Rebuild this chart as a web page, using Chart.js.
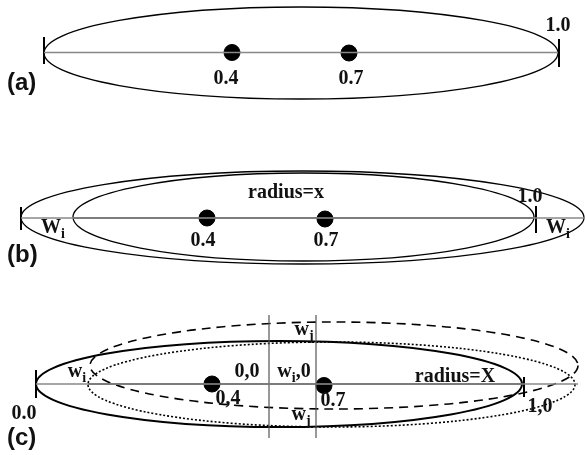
<!DOCTYPE html>
<html>
<head>
<meta charset="utf-8">
<script src="https://cdn.jsdelivr.net/npm/chart.js@4.4.0/dist/chart.umd.min.js"></script>
<style>
  html, body { margin: 0; padding: 0; background: #fff; }
  #wrap { width: 585px; height: 455px; }
</style>
</head>
<body>
<div id="wrap"><canvas id="chart"></canvas></div>
<script>
// diagram space is 0..585 across, 0..455 down

// dots at 0.4 and 0.7 in each panel
const dotsA = [{ x: 232, y: 52.5 }, { x: 349, y: 53 }]
const dotsB = [{ x: 207, y: 218 }, { x: 325, y: 219 }]
const dotsC = [{ x: 212, y: 384 }, { x: 324, y: 385.5 }]

// segments: x1, y1, x2, y2
const axisLines = [[44, 52.5, 558, 52.5], [21, 218, 585, 218], [36, 384, 578, 384]]
const innerAxisLines = [[73, 218, 534, 218], [88, 384, 522, 384]]
const endTicks = [[44, 37, 44, 64], [559, 39, 559, 67], [21, 207, 21, 230], [536, 206, 536, 233], [36, 370, 36, 398], [524, 377, 524, 397]]
const crossLines = [[269, 315, 269, 438], [316, 315, 316, 438]]

// ellipses: (a) outer, (b) outer, (b) inner, (c) solid, (c) dotted, (c) dashed
const ellipseCx = [301, 302.5, 303.5, 279, 331.5, 334]
const ellipseCy = [53, 217.5, 217, 384, 384.5, 365.5]
const ellipseRx = [257, 281.5, 230.5, 243, 243.5, 244]
const ellipseRy = [46, 46.5, 44, 43, 42.5, 43.5]

// text labels
const labelTexts = ['1.0', '0.4', '0.7',
  'radius=x', '1.0', 'W_{i}', 'W_{i}', '0.4', '0.7',
  'w_{j}', 'w_{i}', '0,0', 'w_{i},0', 'radius=X', '0,4', '0.7', '1,0', 'w_{j}', '0.0']
const labelX = [558, 226, 351,
  286, 530, 53, 558, 203, 326,
  304, 77, 247, 294, 455, 228, 333, 540, 301, 24]
const labelY = [26, 79, 79,
  193, 197, 228, 228, 241, 241,
  330, 372, 372, 372, 377, 399, 401, 407, 415, 414]

const panelNames = ['(a)', '(b)', '(c)']
const panelX = [7, 7, 7]
const panelY = [83, 255, 438]

function segs(list, color, width) {
  return list.map(s => ({
    type: 'scatter',
    data: [{ x: s[0], y: s[1] }, { x: s[2], y: s[3] }],
    showLine: true,
    borderColor: color,
    borderWidth: width,
    pointRadius: 0,
    fill: false
  }))
}

const ellipseStyles = [
  { w: 1.3, dash: [] },
  { w: 1.3, dash: [] },
  { w: 1.3, dash: [] },
  { w: 2, dash: [] },
  { w: 1.6, dash: [2, 2] },
  { w: 1.6, dash: [9, 6] }
]

function drawLabel(ctx, text, x, y) {
  const parts = []
  const re = /_\{([^}]*)\}|([^_]+)/g
  let m
  while ((m = re.exec(text)) !== null) {
    if (m[1] !== undefined) parts.push({ t: m[1], sub: true })
    else parts.push({ t: m[2], sub: false })
  }
  const main = 'bold 20px "Liberation Serif", "Times New Roman", serif'
  const small = 'bold 14px "Liberation Serif", "Times New Roman", serif'
  let total = 0
  parts.forEach(p => { ctx.font = p.sub ? small : main; p.w = ctx.measureText(p.t).width; total += p.w })
  let cx = x - total / 2
  ctx.textAlign = 'left'
  ctx.textBaseline = 'middle'
  parts.forEach(p => {
    ctx.font = p.sub ? small : main
    ctx.fillText(p.t, cx, p.sub ? y + 6 : y)
    cx += p.w
  })
}

const diagramPlugin = {
  id: 'diagram',
  beforeDatasetsDraw(chart) {
    const ctx = chart.ctx
    const xs = chart.scales.x, ys = chart.scales.y
    ctx.save()
    ctx.strokeStyle = '#000'
    ellipseCx.forEach((cx, i) => {
      const px = xs.getPixelForValue(cx)
      const py = ys.getPixelForValue(ellipseCy[i])
      const rx = Math.abs(xs.getPixelForValue(cx + ellipseRx[i]) - px)
      const ry = Math.abs(ys.getPixelForValue(ellipseCy[i] + ellipseRy[i]) - py)
      ctx.lineWidth = ellipseStyles[i].w
      ctx.setLineDash(ellipseStyles[i].dash)
      ctx.beginPath()
      ctx.ellipse(px, py, rx, ry, 0, 0, Math.PI * 2)
      ctx.stroke()
    })
    ctx.restore()
  },
  afterDatasetsDraw(chart) {
    const ctx = chart.ctx
    const xs = chart.scales.x, ys = chart.scales.y
    ctx.save()
    ctx.fillStyle = '#111'
    labelTexts.forEach((t, i) => {
      drawLabel(ctx, t, xs.getPixelForValue(labelX[i]), ys.getPixelForValue(labelY[i]))
    })
    ctx.font = 'bold 24px "Liberation Sans", Arial, sans-serif'
    ctx.textAlign = 'left'
    ctx.textBaseline = 'middle'
    panelNames.forEach((t, i) => {
      ctx.fillText(t, xs.getPixelForValue(panelX[i]), ys.getPixelForValue(panelY[i]))
    })
    ctx.restore()
  }
}

const ctx = document.getElementById('chart')
const datasets = [].concat(
  segs(axisLines, '#888', 1.5),
  segs(innerAxisLines, '#222', 1.5),
  segs(crossLines, '#555', 1.2),
  segs(endTicks, '#000', 2),
  [{
    type: 'scatter',
    data: [].concat(dotsA, dotsB, dotsC),
    pointRadius: 8,
    pointBackgroundColor: '#000',
    pointBorderColor: '#000',
    showLine: false
  }]
)

new Chart(ctx, {
  type: 'scatter',
  data: { datasets: datasets },
  options: {
    responsive: true,
    maintainAspectRatio: false,
    animation: false,
    layout: { padding: 0, autoPadding: false },
    plugins: { legend: { display: false }, tooltip: { enabled: false } },
    scales: {
      x: { type: 'linear', min: 0, max: 585, display: false },
      y: { type: 'linear', min: 0, max: 455, reverse: true, display: false }
    }
  },
  plugins: [diagramPlugin]
})
</script>
</body>
</html>
